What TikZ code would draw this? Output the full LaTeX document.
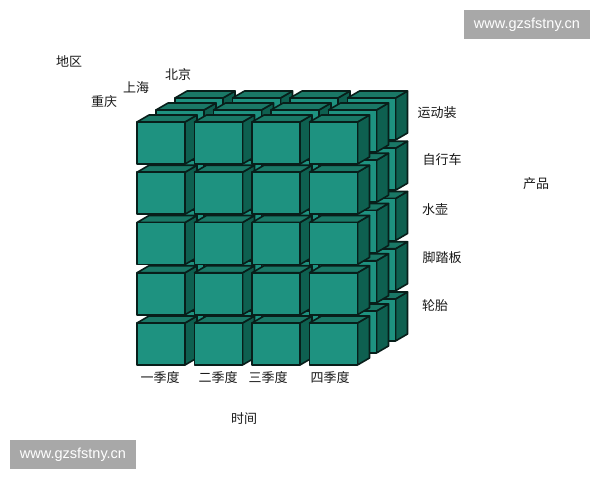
\documentclass[tikz,border=0pt]{standalone}
\usepackage{fontspec}
\setmainfont{Liberation Sans}
\newfontfamily\cjk{Noto Sans CJK SC}
\definecolor{frontc}{RGB}{30,146,128}
\definecolor{topc}{RGB}{26,120,102}
\definecolor{sidec}{RGB}{14,96,80}
\definecolor{edgec}{RGB}{8,30,26}
\definecolor{wmgray}{RGB}{168,168,168}
\definecolor{txtc}{RGB}{25,25,25}
\tikzset{
  frontf/.style={fill=frontc,draw=edgec,line width=1.6pt,line join=round},
  topf/.style={fill=topc,draw=edgec,line width=1.6pt,line join=round},
  sidef/.style={fill=sidec,draw=edgec,line width=1.6pt,line join=round},
  lab/.style={font=\cjk\fontsize{13}{15}\selectfont,text=txtc,inner sep=0pt},
  wmark/.style={fill=wmgray,text=white,font=\fontsize{14.5}{16}\selectfont,minimum width=126pt,minimum height=29pt,inner sep=0pt}
}
\newcommand\onebox[2]{%
  \filldraw[sidef] (#1+48,#2) -- ++(12,-7) -- ++(0,42) -- ++(-12,7) -- cycle;
  \filldraw[topf] (#1,#2) -- ++(12,-7) -- ++(48,0) -- ++(-12,7) -- cycle;
  \filldraw[frontf] (#1,#2) rectangle ++(48,42);
}
\begin{document}
\begin{tikzpicture}[x=1pt,y=-1pt]
\useasboundingbox (0,0) rectangle (600,480);
\fill[white] (0,0) rectangle (600,480);
% cube of boxes: back layer first, bottom row first, left column first
\foreach \k in {2,1,0} {
  \foreach \r in {4,3,2,1,0} {
    \foreach \c in {0,1,2,3} {
      \pgfmathsetmacro\bx{137+57.5*\c+19*\k}
      \pgfmathsetmacro\by{122+50.25*\r-12*\k}
      \onebox{\bx}{\by}
    }
  }
}
% region labels
\node[lab] (diqu) at (69,61) {地区};
\node[lab] (beijing) at (178,75) {北京};
\node[lab] (shanghai) at (136,88) {上海};
\node[lab] (chongqing) at (104,102) {重庆};
% product labels
\node[lab] (yundong) at (437,113) {运动装};
\node[lab] (zixing) at (442,160) {自行车};
\node[lab] (shuihu) at (435,210) {水壶};
\node[lab] (jiaota) at (442,258) {脚踏板};
\node[lab] (luntai) at (435,306) {轮胎};
\node[lab] (chanpin) at (536,184) {产品};
% time labels
\node[lab] (q1) at (160,378) {一季度};
\node[lab] (q2) at (218,378) {二季度};
\node[lab] (q3) at (268,378) {三季度};
\node[lab] (q4) at (330,378) {四季度};
\node[lab] (shijian) at (244,419) {时间};
% watermarks
\node[wmark] (wm1) at (527,24.5) {www.gzsfstny.cn};
\node[wmark] (wm2) at (73,454.5) {www.gzsfstny.cn};
\end{tikzpicture}
\end{document}
